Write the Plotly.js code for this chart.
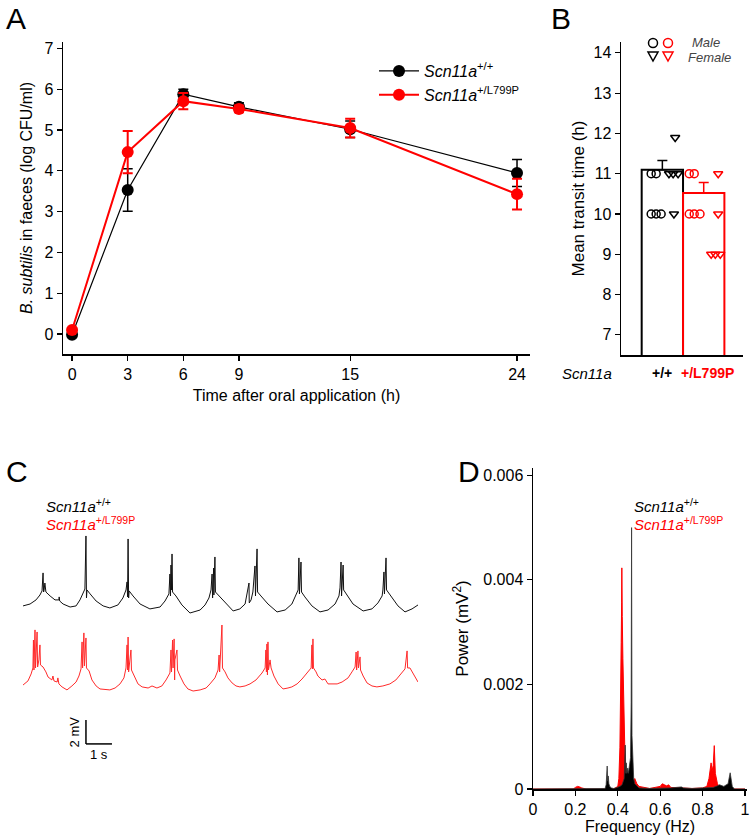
<!DOCTYPE html>
<html><head><meta charset="utf-8">
<script src="https://cdn.plot.ly/plotly-3.0.1.min.js"></script>
<style>html,body{margin:0;padding:0;background:#fff}#chart{width:750px;height:835px}</style>
</head><body><div id="chart"></div>
<script>
// ---------- Panel A data ----------
const timeH = [0, 3, 6, 9, 15, 24];
const wtMean = [-0.02, 3.53, 5.88, 5.57, 5.02, 3.95];
const wtSem = [0.05, 0.52, 0.12, 0.1, 0.2, 0.33];
const mutMean = [0.1, 4.46, 5.71, 5.52, 5.05, 3.43];
const mutSem = [0.05, 0.52, 0.2, 0.08, 0.23, 0.38];
const timeTicks = [0, 3, 6, 9, 15, 24];

// ---------- Panel B data ----------
const groupX = [0, 1];
const groupLabels = ['+/+', '+/L799P'];
const transitMean = [11.1, 10.52];
const transitSem = [0.23, 0.26];
const wtMaleVals = [11, 11, 10, 10, 10];
const wtMaleJitter = [-0.27, -0.15, -0.27, -0.15, -0.03];
const wtFemaleVals = [11, 11, 11, 10, 11.9];
const wtFemaleJitter = [0.16, 0.26, 0.38, 0.28, 0.31];
const mutMaleVals = [11, 11, 10, 10, 10];
const mutMaleJitter = [-0.35, -0.23, -0.35, -0.23, -0.09];
const mutFemaleVals = [11, 10, 9, 9, 9];
const mutFemaleJitter = [0.35, 0.35, 0.18, 0.28, 0.40];

// ---------- Panel C data (time s, potential mV) ----------
const wtT = [0.04,0.31,0.54,0.69,0.77,0.81,0.83,0.85,0.88,0.92,1.08,1.27,1.42,1.43,1.45,1.58,1.85,2.08,2.23,2.35,2.42,2.46,2.48,2.5,2.62,2.85,3.12,3.38,3.69,3.88,4.0,4.04,4.06,4.08,4.1,4.12,4.27,4.54,4.92,5.31,5.5,5.65,5.69,5.71,5.73,5.75,5.77,5.79,5.92,6.15,6.46,6.85,7.04,7.19,7.27,7.31,7.33,7.37,7.38,7.42,7.44,7.58,7.81,8.12,8.38,8.58,8.73,8.74,8.81,8.88,8.96,8.98,9.04,9.06,9.19,9.46,9.81,10.12,10.38,10.54,10.62,10.65,10.67,10.73,10.75,10.88,11.15,11.46,11.77,12.04,12.19,12.23,12.27,12.29,12.35,12.37,12.5,12.73,13.12,13.46,13.69,13.85,13.88,13.92,13.94,14.0,14.02,14.08,14.23,14.46,14.73,15.0,15.23];
const wtV = [0.17,0.33,0.67,1.08,1.42,2.92,1.33,1.5,2.08,1.33,1.0,0.67,0.67,0.92,0.58,0.33,0.08,0.17,0.67,1.17,1.58,6.0,0.83,1.5,1.17,0.58,0.17,0,0.25,0.83,1.5,2.17,0.92,5.75,0.83,1.42,1.0,0.33,-0.08,0.08,0.58,1.17,2.83,1.0,3.58,1.5,4.5,1.33,1.0,0.25,-0.42,-0.17,0.25,0.83,1.5,2.83,0.83,3.33,1.08,4.25,1.33,1.0,0.42,-0.25,-0.08,0.33,2.08,0.42,0.67,1.33,3.5,1.0,4.92,1.33,1.0,0.33,-0.33,-0.17,0.33,1.08,1.5,4.17,1.17,3.83,1.33,0.92,0.17,-0.33,-0.17,0.33,1.0,1.67,3.83,1.0,3.58,1.5,1.08,0.33,-0.25,-0.08,0.42,1.0,1.5,3.0,1.17,4.17,1.5,1.33,0.83,0.17,-0.33,-0.08,0.25];
const mutT = [0.04,0.23,0.35,0.42,0.44,0.46,0.5,0.52,0.58,0.6,0.65,0.69,0.71,0.81,0.92,1.0,1.15,1.19,1.23,1.35,1.38,1.42,1.54,1.73,1.92,2.08,2.19,2.27,2.31,2.33,2.38,2.4,2.46,2.48,2.58,2.69,2.85,3.0,3.38,3.58,3.77,3.92,4.0,4.04,4.06,4.08,4.1,4.15,4.19,4.21,4.31,4.46,4.62,4.85,5.0,5.19,5.38,5.54,5.69,5.73,5.75,5.79,5.81,5.85,5.87,5.88,5.96,5.98,6.08,6.23,6.38,6.58,6.85,7.08,7.23,7.42,7.54,7.58,7.6,7.69,7.71,7.81,7.92,8.08,8.23,8.38,8.58,8.77,9.0,9.23,9.35,9.38,9.4,9.42,9.44,9.46,9.48,9.54,9.58,9.69,9.85,10.04,10.23,10.38,10.58,10.77,10.96,11.12,11.15,11.17,11.19,11.21,11.31,11.38,11.54,11.65,11.77,11.96,12.12,12.31,12.54,12.69,12.81,12.85,12.87,12.92,12.94,13.0,13.02,13.12,13.27,13.46,13.65,13.88,14.15,14.38,14.58,14.73,14.81,14.83,14.92,15.04,15.15,15.23];
const mutV = [-6.42,-6.08,-5.5,-5.0,-2.67,-5.17,-1.83,-5.0,-2.0,-4.92,-4.33,-3.08,-4.75,-4.92,-5.33,-5.75,-6.0,-5.67,-6.08,-6.17,-5.83,-6.33,-6.58,-6.83,-6.5,-6.17,-5.67,-5.08,-2.83,-5.0,-2.08,-4.83,-2.5,-5.0,-5.25,-6.0,-6.5,-6.75,-6.83,-6.67,-6.33,-5.83,-5.0,-3.08,-5.17,-2.42,-5.33,-4.33,-3.5,-5.17,-5.67,-6.33,-6.58,-6.67,-6.5,-6.67,-6.5,-6.0,-5.42,-3.5,-5.33,-2.67,-5.0,-2.58,-6.0,-4.33,-3.5,-5.17,-5.67,-6.33,-6.75,-6.92,-6.83,-6.67,-6.33,-5.83,-5.17,-3.92,-5.33,-1.42,-5.0,-5.33,-5.83,-6.25,-6.5,-6.58,-6.5,-6.33,-6.0,-5.42,-5.0,-3.5,-5.33,-3.0,-5.58,-2.83,-5.17,-4.33,-5.0,-5.67,-6.33,-6.75,-6.67,-6.58,-6.33,-5.92,-5.42,-5.0,-3.08,-5.08,-2.58,-5.0,-5.33,-5.67,-6.0,-5.92,-6.33,-6.33,-6.33,-6.17,-5.83,-5.33,-4.92,-3.67,-5.17,-3.58,-5.0,-4.08,-5.17,-5.67,-6.25,-6.5,-6.58,-6.5,-6.33,-6.0,-5.5,-5.08,-3.58,-5.0,-5.0,-5.42,-5.83,-6.17];
const scaleBarS = 1;     // s
const scaleBarMV = 2;    // mV

// ---------- Panel D data (Hz, mV^2) ----------
const wtF = [0,0.30,0.34,0.345,0.35,0.352,0.355,0.358,0.362,0.37,0.38,0.39,0.40,0.41,0.42,0.43,0.435,0.438,0.44,0.443,0.447,0.45,0.455,0.46,0.463,0.465,0.467,0.47,0.475,0.48,0.49,0.5,0.55,0.6,0.65,0.7,0.71,0.75,0.8,0.85,0.87,0.88,0.9,0.92,0.93,0.935,0.94,0.95,1.0];
const wtP = [0,0,0.00001,0.00008,0.00044,0.00015,0.00025,0.0001,0.00005,0.00002,0.00001,0.00002,0.00003,0.00005,0.00008,0.0002,0.00084,0.0003,0.0005,0.0003,0.0004,0.0003,0.00045,0.0006,0.00165,0.005,0.00102,0.0005,0.0002,0.0001,0.00005,0.00002,0.00001,0.00001,0.00002,0.00004,0.00002,0.00001,0.00002,0.00003,0.00006,0.00008,0.00005,0.0001,0.00031,0.0002,0.00005,0,0];
const mutF = [0,0.19,0.2,0.21,0.22,0.23,0.25,0.38,0.40,0.405,0.41,0.413,0.416,0.418,0.419,0.421,0.424,0.427,0.43,0.435,0.44,0.445,0.45,0.46,0.47,0.48,0.485,0.49,0.5,0.55,0.6,0.61,0.62,0.63,0.64,0.65,0.7,0.75,0.8,0.82,0.83,0.84,0.845,0.85,0.855,0.858,0.86,0.87,0.88,0.9,1.0];
const mutP = [0,0,0.00003,0.00005,0.00004,0.00002,0,0,0.00005,0.0002,0.0008,0.0015,0.0028,0.00356,0.00423,0.0033,0.0025,0.0018,0.001,0.0004,0.0003,0.0002,0.00015,0.0001,0.00012,0.0002,0.00015,0.0001,0.00005,0.00001,0.00005,0.0001,0.00008,0.00006,0.00008,0.00003,0.00002,0.00001,0.00002,0.00005,0.0002,0.0005,0.00035,0.00045,0.00083,0.0004,0.0003,0.0001,0.00003,0,0];
const freqTicks = [0, 0.2, 0.4, 0.6, 0.8, 1];
const powerTicks = [0, 0.002, 0.004, 0.006];
const powerTickText = ['0', '0.002', '0.004', '0.006'];

// ---------- layout helpers ----------
const W = 750, H = 835;
const px = x => x / W;
const py = y => 1 - y / H;
const FONT = 'Arial, "Liberation Sans", sans-serif';
const RED = '#ff0000';

const traces = [
  // Panel A
  {x: timeH, y: wtMean, type: 'scatter', mode: 'lines+markers', name: '<i>Scn11a</i><sup>+/+</sup>',
   xaxis: 'x', yaxis: 'y', line: {color: '#000', width: 1.2}, marker: {color: '#000', size: 12},
   error_y: {type: 'data', array: wtSem, color: '#000', thickness: 1.5, width: 5}, cliponaxis: false},
  {x: timeH, y: mutMean, type: 'scatter', mode: 'lines+markers', name: '<i>Scn11a</i><sup>+/L799P</sup>',
   xaxis: 'x', yaxis: 'y', line: {color: RED, width: 2}, marker: {color: RED, size: 12},
   error_y: {type: 'data', array: mutSem, color: RED, thickness: 2, width: 5}, cliponaxis: false},
  // Panel B bars
  {x: [groupX[0]], y: [transitMean[0]], type: 'bar', width: 1, xaxis: 'x2', yaxis: 'y2', showlegend: false,
   marker: {color: 'rgba(255,255,255,0)', line: {color: '#000', width: 2}},
   error_y: {type: 'data', array: [transitSem[0]], arrayminus: [0], symmetric: false, color: '#000', thickness: 1.5, width: 5}},
  {x: [groupX[1]], y: [transitMean[1]], type: 'bar', width: 1, xaxis: 'x2', yaxis: 'y2', showlegend: false,
   marker: {color: 'rgba(255,255,255,0)', line: {color: RED, width: 2}},
   error_y: {type: 'data', array: [transitSem[1]], arrayminus: [0], symmetric: false, color: RED, thickness: 1.5, width: 5}},
  // Panel B points
  {x: wtMaleJitter.map(j => groupX[0] + j), y: wtMaleVals, type: 'scatter', mode: 'markers', xaxis: 'x2', yaxis: 'y2', showlegend: false,
   marker: {symbol: 'circle-open', size: 8, color: '#000', line: {width: 1.5}}},
  {x: wtFemaleJitter.map(j => groupX[0] + j), y: wtFemaleVals, type: 'scatter', mode: 'markers', xaxis: 'x2', yaxis: 'y2', showlegend: false,
   marker: {symbol: 'triangle-down-open', size: 8, color: '#000', line: {width: 1.5}}},
  {x: mutMaleJitter.map(j => groupX[1] + j), y: mutMaleVals, type: 'scatter', mode: 'markers', xaxis: 'x2', yaxis: 'y2', showlegend: false,
   marker: {symbol: 'circle-open', size: 8, color: RED, line: {width: 1.5}}},
  {x: mutFemaleJitter.map(j => groupX[1] + j), y: mutFemaleVals, type: 'scatter', mode: 'markers', xaxis: 'x2', yaxis: 'y2', showlegend: false,
   marker: {symbol: 'triangle-down-open', size: 8, color: RED, line: {width: 1.5}}},
  // Panel C traces
  {x: wtT, y: wtV, type: 'scatter', mode: 'lines', xaxis: 'x3', yaxis: 'y3', showlegend: false,
   line: {color: '#111', width: 1}},
  {x: mutT, y: mutV, type: 'scatter', mode: 'lines', xaxis: 'x3', yaxis: 'y3', showlegend: false,
   line: {color: '#ff2a2a', width: 1}},
  // Panel D spectra
  {x: mutF, y: mutP, type: 'scatter', mode: 'lines', xaxis: 'x4', yaxis: 'y4', showlegend: false,
   line: {color: RED, width: 1}, fill: 'tozeroy', fillcolor: RED},
  {x: wtF, y: wtP, type: 'scatter', mode: 'lines', xaxis: 'x4', yaxis: 'y4', showlegend: false,
   line: {color: '#333', width: 0.8}, fill: 'tozeroy', fillcolor: '#000'}
];

const axBase = {showline: true, linecolor: '#000', linewidth: 1.5, ticks: 'outside', ticklen: 5, tickwidth: 1.2,
  tickcolor: '#000', showgrid: false, zeroline: false, tickfont: {size: 16, color: '#000', family: FONT}};

// B legend symbols drawn as shapes (paper coordinates)
const circ = (cx, cy, color) => ({type: 'circle', xref: 'paper', yref: 'paper',
  x0: px(cx - 4.5), x1: px(cx + 4.5), y0: py(cy + 4.5), y1: py(cy - 4.5), line: {color: color, width: 1.5}});
const tri = (cx, cy, color) => ({type: 'path', xref: 'paper', yref: 'paper',
  path: `M ${px(cx - 5)} ${py(cy - 4)} L ${px(cx + 5)} ${py(cy - 4)} L ${px(cx)} ${py(cy + 5)} Z`, line: {color: color, width: 1.5}});

const layout = {
  width: W, height: H, margin: {l: 0, r: 0, t: 0, b: 0},
  paper_bgcolor: '#fff', plot_bgcolor: 'rgba(0,0,0,0)',
  font: {family: FONT, color: '#000', size: 14},
  showlegend: true,
  legend: {x: px(374), y: py(54), xanchor: 'left', yanchor: 'top', bgcolor: 'rgba(0,0,0,0)',
    font: {size: 16, family: FONT}, tracegroupgap: 0, itemwidth: 40},
  barmode: 'overlay',
  xaxis: Object.assign({}, axBase, {domain: [px(63), px(530)], range: [-0.49, 24.7], anchor: 'y',
    tickvals: timeTicks, title: {text: 'Time after oral application (h)', font: {size: 16}, standoff: 8}}),
  yaxis: Object.assign({}, axBase, {domain: [py(354), py(42)], range: [-0.49, 7.16], anchor: 'x',
    tickvals: [0,1,2,3,4,5,6,7], title: {text: '<i>B. subtilis</i> in faeces (log CFU/ml)', font: {size: 16}, standoff: 8}}),
  xaxis2: Object.assign({}, axBase, {domain: [px(621), px(743)], range: [-1.0, 1.95], anchor: 'y2',
    tickvals: groupX, showticklabels: false, ticks: ''}),
  yaxis2: Object.assign({}, axBase, {domain: [py(355), py(42)], range: [6.5, 14.27], anchor: 'x2',
    tickvals: [7,8,9,10,11,12,13,14], title: {text: 'Mean transit time (h)', font: {size: 17}, standoff: 4}}),
  xaxis3: {domain: [px(22), px(418)], range: [0, 15.23], anchor: 'y3', visible: false},
  yaxis3: {domain: [py(760), py(520)], range: [-12.67, 7.33], anchor: 'x3', visible: false},
  xaxis4: Object.assign({}, axBase, {domain: [px(533), px(747)], range: [0, 1.0094], anchor: 'y4',
    tickvals: freqTicks, title: {text: 'Frequency (Hz)', font: {size: 16}, standoff: 3}}),
  yaxis4: Object.assign({}, axBase, {domain: [py(789), py(468)], range: [0, 0.00614], anchor: 'x4',
    tickvals: powerTicks, ticktext: powerTickText, title: {text: 'Power (mV<sup>2</sup>)', font: {size: 17}, standoff: 10}}),
  shapes: [
    {type: 'line', xref: 'x3', yref: 'y3', x0: 2.46, x1: 2.46 + scaleBarS, y0: -11.33, y1: -11.33, line: {color: '#000', width: 1.5}},
    {type: 'line', xref: 'x3', yref: 'y3', x0: 2.46, x1: 2.46, y0: -11.33, y1: -11.33 + scaleBarMV, line: {color: '#000', width: 1.5}},
    circ(653, 43, '#000'), circ(668, 43, RED), tri(653, 56, '#000'), tri(668, 56, RED)
  ],
  annotations: [
    {text: 'A', x: px(4), y: py(18), xref: 'paper', yref: 'paper', xanchor: 'left', yanchor: 'middle', showarrow: false, font: {size: 30}},
    {text: 'B', x: px(549), y: py(18), xref: 'paper', yref: 'paper', xanchor: 'left', yanchor: 'middle', showarrow: false, font: {size: 30}},
    {text: 'C', x: px(4), y: py(471), xref: 'paper', yref: 'paper', xanchor: 'left', yanchor: 'middle', showarrow: false, font: {size: 30}},
    {text: 'D', x: px(456), y: py(471), xref: 'paper', yref: 'paper', xanchor: 'left', yanchor: 'middle', showarrow: false, font: {size: 30}},
    // B legend text
    {text: '<i>Male</i>', x: px(690), y: py(42), xref: 'paper', yref: 'paper', xanchor: 'left', yanchor: 'middle', showarrow: false, font: {size: 13, color: '#444'}},
    {text: '<i>Female</i>', x: px(686), y: py(57), xref: 'paper', yref: 'paper', xanchor: 'left', yanchor: 'middle', showarrow: false, font: {size: 13, color: '#444'}},
    // B group labels
    {text: '<i>Scn11a</i>', x: px(587), y: py(373), xref: 'paper', yref: 'paper', xanchor: 'center', yanchor: 'middle', showarrow: false, font: {size: 15}},
    {text: '<b>' + groupLabels[0] + '</b>', x: groupX[0], y: py(373), xref: 'x2', yref: 'paper', xanchor: 'center', yanchor: 'middle', showarrow: false, font: {size: 14, color: '#000'}},
    {text: '<b>' + groupLabels[1] + '</b>', x: groupX[1], y: py(373), xref: 'x2', yref: 'paper', xanchor: 'center', yanchor: 'middle', xshift: 4, showarrow: false, font: {size: 14, color: RED}},
    // C labels
    {text: '<i>Scn11a</i><sup>+/+</sup>', x: px(44), y: py(505), xref: 'paper', yref: 'paper', xanchor: 'left', yanchor: 'middle', showarrow: false, font: {size: 15}},
    {text: '<i>Scn11a</i><sup>+/L799P</sup>', x: px(44), y: py(523), xref: 'paper', yref: 'paper', xanchor: 'left', yanchor: 'middle', showarrow: false, font: {size: 15, color: RED}},
    {text: '2 mV', x: 2.46, y: -11.33 + scaleBarMV / 2, xref: 'x3', yref: 'y3', xanchor: 'right', yanchor: 'middle', textangle: -90, xshift: -2, showarrow: false, font: {size: 13}},
    {text: '1 s', x: 2.46 + scaleBarS / 2, y: -11.33, xref: 'x3', yref: 'y3', xanchor: 'center', yanchor: 'top', yshift: -1, showarrow: false, font: {size: 13}},
    // D labels
    {text: '<i>Scn11a</i><sup>+/+</sup>', x: px(632), y: py(505), xref: 'paper', yref: 'paper', xanchor: 'left', yanchor: 'middle', showarrow: false, font: {size: 15}},
    {text: '<i>Scn11a</i><sup>+/L799P</sup>', x: px(632), y: py(523), xref: 'paper', yref: 'paper', xanchor: 'left', yanchor: 'middle', showarrow: false, font: {size: 15, color: RED}}
  ]
};

Plotly.newPlot('chart', traces, layout, {displayModeBar: false, staticPlot: true});
</script>
</body></html>
